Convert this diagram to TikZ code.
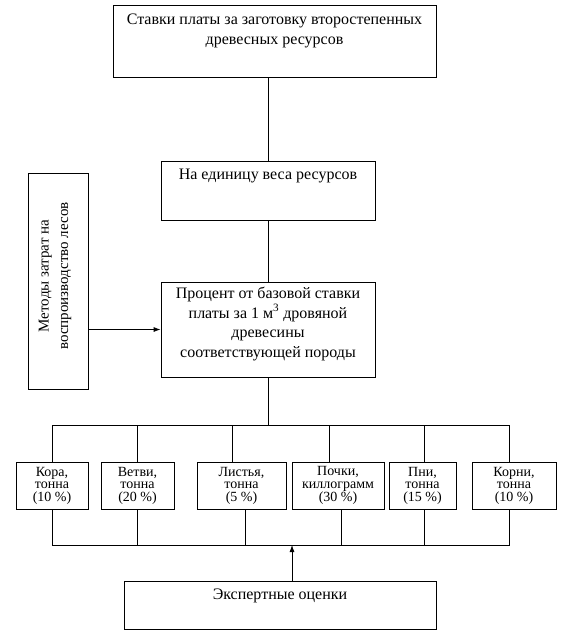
\documentclass[tikz,border=0pt]{standalone}
\usepackage{fontspec}
\setmainfont{Liberation Serif}
\usetikzlibrary{arrows.meta}
\begin{document}
\begin{tikzpicture}[x=1pt,y=-1pt,
  box/.style={draw, line width=0.8pt, inner sep=0pt},
  lbl/.style={align=center, font=\fontsize{16}{19.5}\selectfont, inner sep=0pt},
  vlbl/.style={align=center, font=\fontsize{15}{19.5}\selectfont, inner sep=0pt},
  slbl/.style={align=center, font=\fontsize{14}{12.5}\selectfont, inner sep=0pt},
  ln/.style={line width=0.8pt},
  arr/.style={line width=0.8pt, -{Latex[length=7pt,width=5pt]}}]
\useasboundingbox (0,0) rectangle (561,638);
% main boxes
\node[box, minimum width=323pt, minimum height=72pt] (top) at (274.5,41) {};
\node[lbl, anchor=north] (toptext) at (274.5,14) {Ставки платы за заготовку второстепенных\\древесных ресурсов};
\node[box, minimum width=214pt, minimum height=59pt] (mid) at (268,190.5) {};
\node[lbl, anchor=north] (midtext) at (268,169) {На единицу веса ресурсов};
\node[box, minimum width=214pt, minimum height=95pt] (proc) at (268,329.5) {};
\node[lbl, anchor=center] (proctext) at (268,324) {Процент от базовой ставки\\платы за 1 м\textsuperscript{3} дровяной\\древесины\\соответствующей породы};
\node[box, minimum width=60pt, minimum height=216pt] (left) at (58,281) {};
\node[vlbl, rotate=90] (lefttext) at (55,276) {Методы затрат на\\воспроизводство лесов};
\node[box, minimum width=312pt, minimum height=48pt] (exp) at (280,605) {};
\node[lbl, anchor=north] (exptext) at (280,589) {Экспертные оценки};
% small boxes
\node[box, minimum width=72pt, minimum height=47pt] (b1) at (52,485.5) {};
\node[slbl] at (b1) {Кора,\\тонна\\(10 \%)};
\node[box, minimum width=73pt, minimum height=47pt] (b2) at (137.5,485.5) {};
\node[slbl] at (b2) {Ветви,\\тонна\\(20 \%)};
\node[box, minimum width=89pt, minimum height=47pt] (b3) at (241.5,485.5) {};
\node[slbl] at (b3) {Листья,\\тонна\\(5 \%)};
\node[box, minimum width=92pt, minimum height=47pt] (b4) at (338,485.5) {};
\node[slbl] at (b4) {Почки,\\киллограмм\\(30 \%)};
\node[box, minimum width=67pt, minimum height=47pt] (b5) at (422.5,485.5) {};
\node[slbl] at (b5) {Пни,\\тонна\\(15 \%)};
\node[box, minimum width=84pt, minimum height=47pt] (b6) at (514,485.5) {};
\node[slbl] at (b6) {Корни,\\тонна\\(10 \%)};
% bus coordinates
\coordinate (tbus) at (268,425);
\coordinate (bbus) at (292,545);
% connectors
\draw[ln] (top.south -| mid.north) -- (mid.north);
\draw[ln] (mid.south) -- (proc.north);
\draw[arr] (proc.west -| left.east) -- (proc.west);
\draw[ln] (proc.south) -- (tbus);
\draw[ln] (b1.north) -- (b1.north |- tbus) -- (509,425) -- (509,462);
\draw[ln] (137,425) -- (137,462);
\draw[ln] (232,425) -- (232,462);
\draw[ln] (329,425) -- (329,462);
\draw[ln] (424,425) -- (424,462);
\draw[ln] (b1.south) -- (b1.south |- bbus) -- (509,545) -- (509,509);
\draw[ln] (137,509) -- (137,545);
\draw[ln] (245,509) -- (245,545);
\draw[ln] (341,509) -- (341,545);
\draw[ln] (424,509) -- (424,545);
\draw[arr] (exp.north -| bbus) -- (bbus);
\end{tikzpicture}
\end{document}
